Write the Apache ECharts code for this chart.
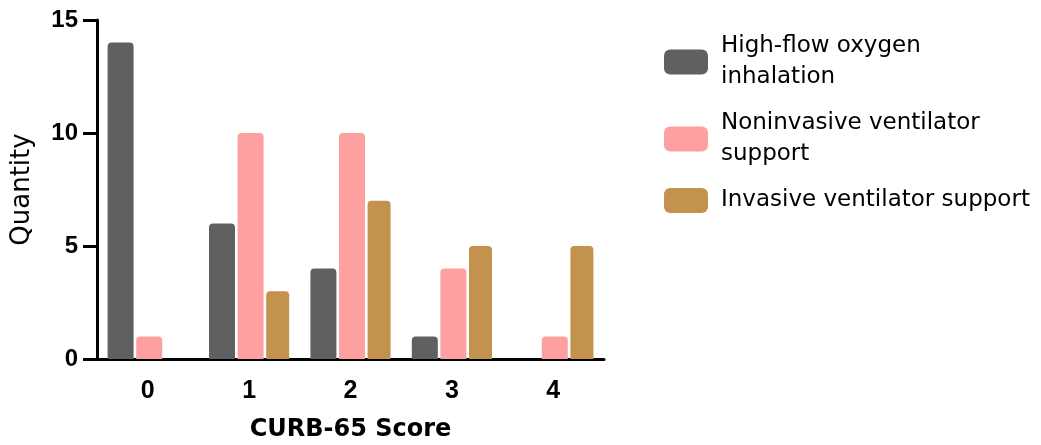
<!DOCTYPE html>
<html>
<head>
<meta charset="utf-8">
<script src="https://cdn.jsdelivr.net/npm/echarts@6/dist/echarts.min.js"></script>
<style>
html,body{margin:0;padding:0;background:#fff;}
#chart{width:1041px;height:445px;}
</style>
</head>
<body>
<div id="chart"></div>
<script>
const categories = ['0', '1', '2', '3', '4'];
const seriesNames = ['High-flow oxygen\ninhalation', 'Noninvasive ventilator\nsupport', 'Invasive ventilator support'];
const highFlow = [14, 6, 4, 1, 0];
const noninvasive = [1, 10, 10, 4, 1];
const invasive = [0, 3, 7, 5, 5];
const yTicks = [0, 5, 10, 15];

const colors = ['#606060', '#fe9fa0', '#c4924f'];
const chart = echarts.init(document.getElementById('chart'));

function barSeries(name, data, color, width) {
  return {
    name: name,
    type: 'bar',
    data: data,
    barWidth: width,
    barGap: '10%',
    itemStyle: { color: color, borderRadius: [4, 4, 0, 0] },
    emphasis: { disabled: true }
  };
}

chart.setOption({
  animation: false,
  grid: { left: 97, right: 437, top: 20, bottom: 86, containLabel: false, outerBoundsMode: 'none' },
  legend: {
    orient: 'vertical',
    left: 659,
    top: 26,
    itemWidth: 44,
    itemHeight: 25,
    itemGap: 15,
    icon: 'roundRect',
    selectedMode: false,
    textStyle: {
      fontFamily: 'DejaVu Sans',
      fontSize: 23,
      lineHeight: 31,
      color: '#000',
      padding: [0, 0, 0, 8]
    },
    data: seriesNames
  },
  xAxis: {
    type: 'category',
    data: categories,
    name: 'CURB-65 Score',
    nameLocation: 'middle',
    nameGap: 59,
    nameTextStyle: { fontFamily: 'DejaVu Sans', fontWeight: 'bold', fontSize: 24, color: '#000' },
    axisLine: { lineStyle: { color: '#000', width: 3 } },
    axisTick: { alignWithLabel: true, length: 12, lineStyle: { color: '#000', width: 3 } },
    axisLabel: { margin: 20, fontFamily: 'Liberation Sans', fontWeight: 'bold', fontSize: 25, color: '#000' },
    splitLine: { show: false }
  },
  yAxis: {
    type: 'value',
    min: 0,
    max: 15,
    interval: 5,
    name: 'Quantity',
    nameLocation: 'middle',
    nameGap: 62,
    nameTextStyle: { fontFamily: 'DejaVu Sans', fontSize: 26, color: '#000' },
    axisLine: { show: true, lineStyle: { color: '#000', width: 3 } },
    axisTick: { show: true, length: 14, lineStyle: { color: '#000', width: 3 } },
    axisLabel: {
      margin: 19, fontFamily: 'Liberation Sans', fontWeight: 'bold', fontSize: 24, color: '#000',
      formatter: function (v) { return yTicks.indexOf(v) >= 0 ? String(v) : ''; }
    },
    splitLine: { show: false }
  },
  series: [
    barSeries(seriesNames[0], highFlow, colors[0], 26),
    barSeries(seriesNames[1], noninvasive, colors[1], 26),
    barSeries(seriesNames[2], invasive, colors[2], 23)
  ]
});
</script>
</body>
</html>
